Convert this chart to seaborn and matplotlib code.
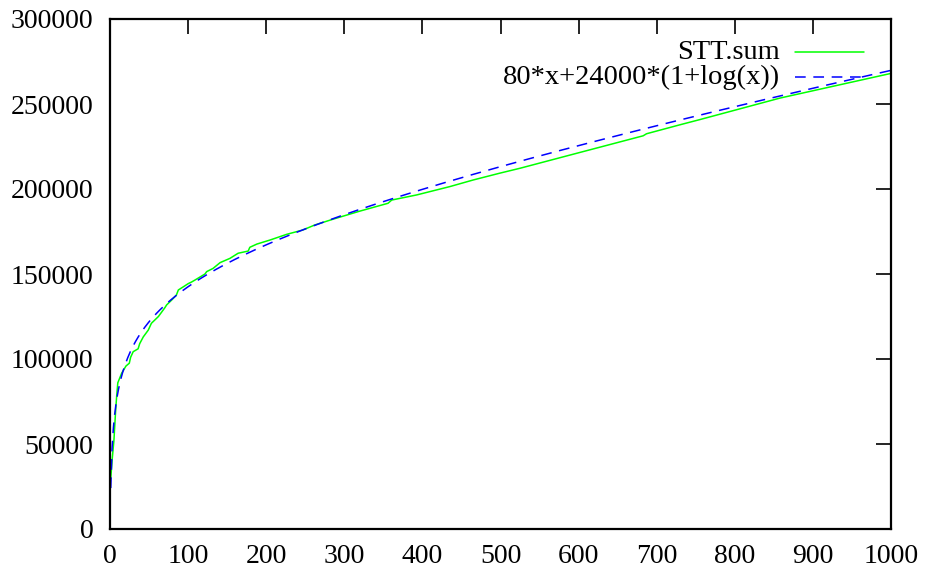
import numpy as np
import pandas as pd
import matplotlib
matplotlib.use("Agg")
import matplotlib.pyplot as plt
import seaborn as sns

# Cumulative sum series (STT.sum)
stt_x = [1, 3, 5, 7, 8.5, 10, 15, 20.5, 24.7, 26.4, 29.7, 36, 38, 42.6, 49, 53,
         62, 70, 72.5, 79, 85, 87.5, 94, 100, 104.5, 109, 121.6, 123.8, 132, 141,
         153.6, 164, 177, 179, 188, 205, 226, 247, 262, 286, 320, 356, 360.7,
         392.6, 435, 465, 499, 525, 597.5, 682.7, 687, 730, 755, 858, 1000]
stt_y = [30000, 42000, 52000, 68000, 78000, 86000, 91700, 95900, 97500, 101000,
         104300, 106000, 109000, 113000, 117000, 121000, 125000, 130000, 131800,
         134700, 137600, 140600, 142500, 144300, 145300, 146500, 150000, 151400,
         153300, 156700, 159200, 162200, 163500, 165700, 167600, 170000, 173300,
         175900, 178800, 182300, 187000, 191600, 193500, 196500, 201400, 205300,
         209300, 212200, 221000, 231300, 232500, 237800, 240800, 253500, 268000]

# Reference model 80*x + 24000*(1 + log(x))
model_x = np.linspace(1, 1000, 600)
model_y = 80 * model_x + 24000 * (1 + np.log(model_x))

x_ticks = [0, 100, 200, 300, 400, 500, 600, 700, 800, 900, 1000]
y_ticks = [0, 50000, 100000, 150000, 200000, 250000, 300000]

green = "#00ff00"
blue = "#0000ff"

sns.set_style("white")
plt.rcParams["font.family"] = ["Liberation Serif", "DejaVu Serif"]

fig = plt.figure(figsize=(9.27, 5.77), dpi=100)
ax = fig.add_axes([110 / 927, 48 / 577, 781 / 927, 510 / 577])

stt = pd.DataFrame({"x": stt_x, "y": stt_y})
model = pd.DataFrame({"x": model_x, "y": model_y})

sns.lineplot(data=stt, x="x", y="y", ax=ax, color=green, linewidth=1.1,
             estimator=None, sort=False, legend=False)
sns.lineplot(data=model, x="x", y="y", ax=ax, color=blue, linewidth=1.1,
             estimator=None, sort=False, legend=False)
ax.lines[1].set_dashes((7, 5))

ax.set_xlim(0, 1000)
ax.set_ylim(0, 300000)
ax.set_xticks(x_ticks)
ax.set_yticks(y_ticks)
ax.set_xticklabels([str(v) for v in x_ticks])
ax.set_yticklabels([str(v) for v in y_ticks])
ax.set_xlabel("")
ax.set_ylabel("")

for side in ax.spines.values():
    side.set_visible(True)
    side.set_color("black")
    side.set_linewidth(1.6)

ax.tick_params(axis="both", which="major", direction="in", length=11,
               width=1.2, color="black", labelsize=20, labelcolor="black",
               top=True, right=True)
ax.tick_params(axis="y", pad=12)
ax.tick_params(axis="x", pad=11)

# Key in the upper right: right-aligned titles followed by line samples
key = [("STT.sum", green, None, 0.935),
       ("80*x+24000*(1+log(x))", blue, (7, 5), 0.886)]
for label, col, dash, ypos in key:
    ax.text(0.858, ypos, label, transform=ax.transAxes, ha="right",
            va="center", fontsize=20.5, color="black")
    sample, = ax.plot([0.877, 0.965], [ypos, ypos], transform=ax.transAxes,
                      color=col, linewidth=1.1, clip_on=False)
    if dash:
        sample.set_dashes(dash)

fig.savefig("out.png", dpi=100, facecolor="white")
